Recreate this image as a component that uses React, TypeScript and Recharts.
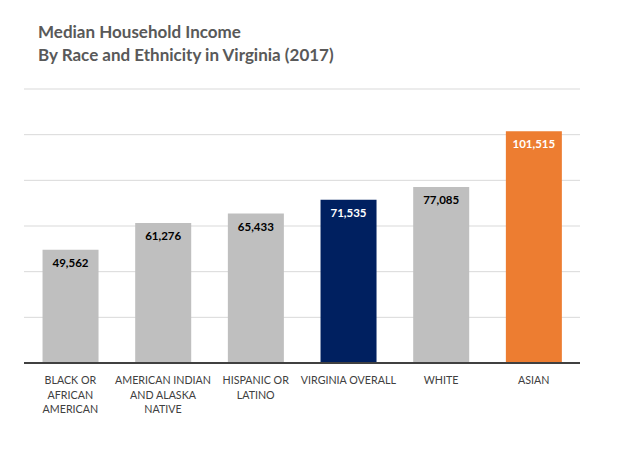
import { Bar, BarChart, CartesianGrid, Cell, LabelList, XAxis, YAxis } from "recharts"

const categories = [
  "BLACK OR\nAFRICAN\nAMERICAN",
  "AMERICAN INDIAN\nAND ALASKA\nNATIVE",
  "HISPANIC OR\nLATINO",
  "VIRGINIA OVERALL",
  "WHITE",
  "ASIAN",
]
const incomes = [49562, 61276, 65433, 71535, 77085, 101515]
const barColors = ["#BFBFBF", "#BFBFBF", "#BFBFBF", "#002060", "#BFBFBF", "#ED7D31"]
const labelColors = ["#000000", "#000000", "#000000", "#FFFFFF", "#000000", "#FFFFFF"]
const yTicks = [0, 20000, 40000, 60000, 80000, 100000, 120000]

const data = categories.map((name, i) => ({ name, income: incomes[i] }))

const font = "Lato, 'Open Sans', sans-serif"

function CategoryTick(props: any) {
  const { x, y, payload } = props
  const lines = String(payload.value).split("\n")
  return (
    <g transform={`translate(${x},${y})`}>
      {lines.map((line: string, i: number) => (
        <text
          key={i}
          x={0}
          y={13 + i * 14.5}
          textAnchor="middle"
          fontFamily={font}
          fontSize={10.7}
          fill="#404040"
        >
          {line}
        </text>
      ))}
    </g>
  )
}

function ValueLabel(props: any) {
  const { x, y, width, value, index } = props
  return (
    <text
      x={x + width / 2}
      y={y + 17}
      textAnchor="middle"
      fontFamily={font}
      fontSize={11.5}
      fontWeight="bold"
      fill={labelColors[index]}
    >
      {Number(value).toLocaleString("en-US")}
    </text>
  )
}

export default function App() {
  return (
    <div style={{ position: "absolute", left: 0, top: 0, width: 631, height: 451, background: "#fff" }}>
      <div
        style={{
          position: "absolute",
          left: 38,
          top: 20,
          fontFamily: font,
          fontWeight: "bold",
          fontSize: 17,
          lineHeight: "23px",
          color: "#595959",
        }}
      >
        <div>Median Household Income</div>
        <div>By Race and Ethnicity in Virginia (2017)</div>
      </div>
      <BarChart
        width={631}
        height={451}
        data={data}
        margin={{ top: 89, right: 51, left: 24, bottom: 28 }}
        barCategoryGap="20%"
      >
        <CartesianGrid vertical={false} stroke="#D9D9D9" />
        <YAxis hide domain={[0, 120000]} ticks={yTicks} />
        <XAxis
          dataKey="name"
          interval={0}
          height={60}
          tickLine={false}
          axisLine={{ stroke: "#404040", strokeWidth: 2 }}
          tick={<CategoryTick />}
        />
        <Bar dataKey="income" isAnimationActive={false}>
          {data.map((_, i) => (
            <Cell key={i} fill={barColors[i]} />
          ))}
          <LabelList dataKey="income" content={<ValueLabel />} />
        </Bar>
      </BarChart>
    </div>
  )
}
